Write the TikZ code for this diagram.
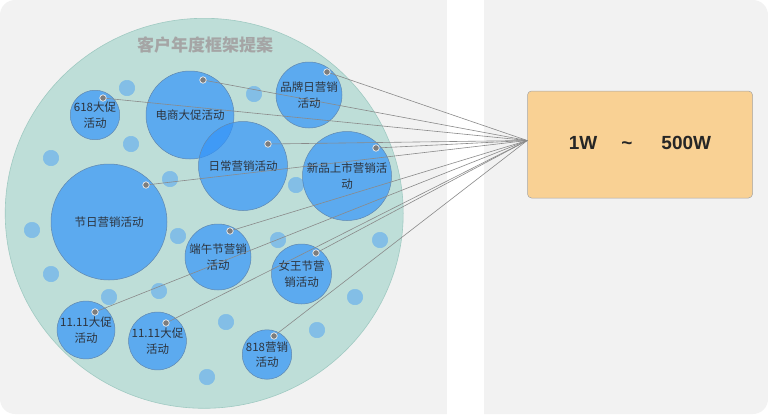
\documentclass[tikz,border=0pt]{standalone}
\usepackage{fontspec}
\setmainfont{Liberation Sans}
\newfontfamily\cjk{Noto Sans CJK SC}
\definecolor{panelgray}{RGB}{242,242,242}
\definecolor{tealbg}{RGB}{190,222,216}
\definecolor{tealline}{RGB}{160,202,194}
\definecolor{bubble}{RGB}{51,148,250}
\definecolor{bubbleline}{RGB}{95,135,175}
\definecolor{orangebox}{RGB}{249,209,148}
\definecolor{linkgray}{RGB}{138,138,138}
\definecolor{dotgray}{RGB}{125,125,125}
\definecolor{titlegray}{RGB}{165,165,165}
\definecolor{textdark}{RGB}{45,52,62}
\begin{document}
\begin{tikzpicture}[x=1pt, y=-1pt, line join=round, line cap=round, font=\cjk\fontsize{11.5}{15.5}\selectfont]
	\tikzset{bubble style/.style={circle, inner sep=0pt, draw=bubbleline, line width=0.5pt, fill=bubble, fill opacity=0.7, text opacity=1, text=textdark, align=center},
		small bubble/.style={circle, inner sep=0pt, minimum size=15.5pt, draw=bubble!45!tealbg, line width=0.5pt, fill=bubble, fill opacity=0.42},
		link/.style={linkgray, line width=0.6pt},
		dot style/.style={circle, inner sep=0pt, minimum size=6.5pt, fill=dotgray, draw=white!85!gray, line width=0.7pt}}
	\useasboundingbox (0,0) rectangle (768,415);
	\fill[panelgray, rounded corners=15pt] (0,0) rectangle (768,414);
	\fill[white] (447,-1) rectangle (484,416);
	\draw[tealline, fill=tealbg, line width=0.6pt] (204.2,213.3) ellipse (199pt and 195pt);
	\node[text=titlegray, font=\cjk\bfseries\fontsize{17}{20}\selectfont] (title) at (205,45) {客户年度框架提案};
	% small bubbles
	\foreach \x/\y [count=\i] in {127/88, 254/94, 131/144, 51/158, 170/179, 296/185, 32/230, 178/236, 278/240, 380/240, 51/274, 109/297, 159/291, 355/297, 226/322, 317/330, 207/377}
		\node[small bubble] (s\i) at (\x,\y) {};
	% activity bubbles
	\foreach \n/\x/\y/\d/\t in {b618/95/115/48/{618大促\\活动}, dianshang/190/115/88/{电商大促活动}, pinpai/309/95/66/{品牌日营销\\活动},
		richang/243/166/89/{日常营销活动}, xinpin/347/176/89/{新品上市营销活\\动}, jieri/109/222/116/{节日营销活动},
		duanwu/218/257/66/{端午节营销\\活动}, nvwang/301.5/274/60/{女王节营\\销活动}, shuang1/86/330/48/{11.11大促\\活动},
		shuang2/157.5/341/48/{11.11大促\\活动}, b818/267/354.5/48/{818营销\\活动}}
		\node[bubble style, minimum size=\d pt] (\n) at (\x,\y) {\t};
	\node[draw=gray!70, line width=0.5pt, fill=orangebox, rounded corners=4pt, minimum width=225pt, minimum height=107pt,
		text=black!85, font=\bfseries\fontsize{19}{22}\selectfont] (range) at (640,144.5) {\raisebox{3pt}{1W\hspace{24pt}\textasciitilde\hspace{29pt}500W}};
	\path (103,98) coordinate (d618)
		(203,80) coordinate (ddianshang)
		(327,72) coordinate (dpinpai)
		(268,144) coordinate (drichang)
		(376,148) coordinate (dxinpin)
		(146,185) coordinate (djieri)
		(230,231) coordinate (dduanwu)
		(316,253) coordinate (dnvwang)
		(95,312) coordinate (dshuang1)
		(166,323) coordinate (dshuang2)
		(274,336) coordinate (d818)
		;
	\foreach \p in {d618,ddianshang,dpinpai,drichang,dxinpin,djieri,dduanwu,dnvwang,dshuang1,dshuang2,d818}
		\draw[link] (\p) -- ([yshift=4pt]range.west);
	\foreach \p in {d618,ddianshang,dpinpai,drichang,dxinpin,djieri,dduanwu,dnvwang,dshuang1,dshuang2,d818}
		\node[dot style] at (\p) {};
\end{tikzpicture}
\end{document}
